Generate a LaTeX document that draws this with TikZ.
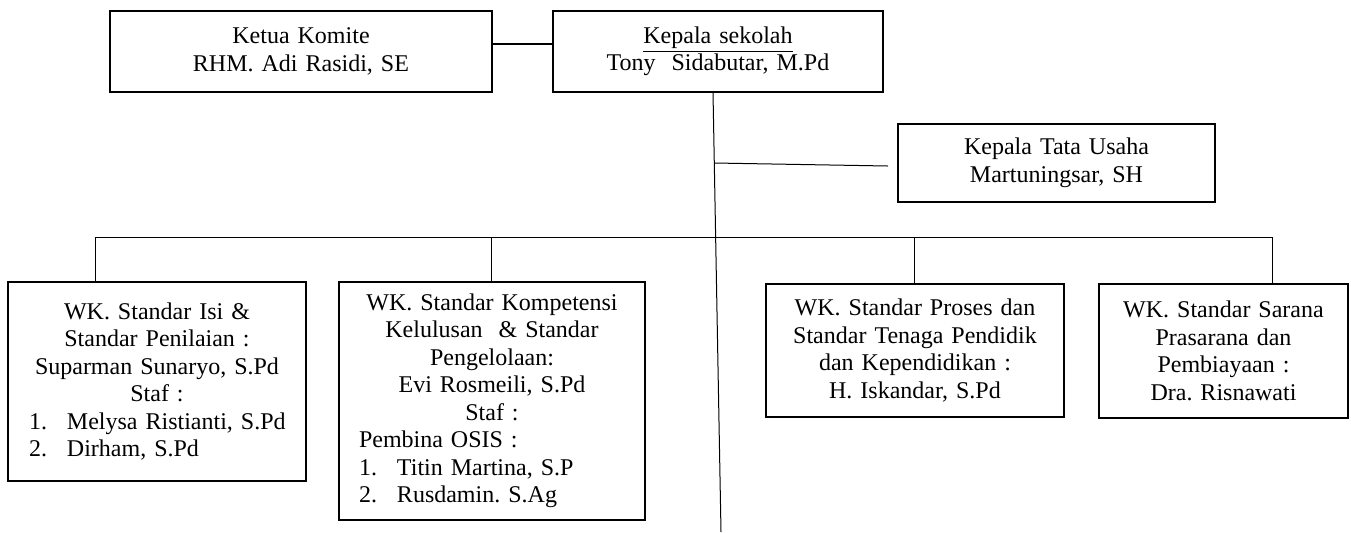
\documentclass[tikz,border=0pt]{standalone}
\usepackage{fontspec}
\setmainfont{Liberation Serif}
\usetikzlibrary{calc}
\frenchspacing
\newcommand{\staffline}[3]{\makebox[\hsize][l]{\hspace*{#1}\makebox[19pt][l]{#2}#3}}

\begin{document}
\begin{tikzpicture}[x=0.5pt,y=-0.5pt]
\tikzstyle{unit} = [draw,line width=0.7pt,inner sep=0pt,align=center,font=\fontsize{12pt}{13.75pt}\selectfont];
\tikzstyle{link} = [line width=0.5pt];

\useasboundingbox (0,0) rectangle (1351,532);

\node [unit,text width=191pt,minimum height=40.5pt] (v1) at (301,51.5) {Ketua Komite\\RHM. Adi Rasidi, SE};
\node [unit,text width=165pt,minimum height=40.5pt] (v2) at (718,51.5) {\underline{Kepala sekolah}\\Tony\ \ Sidabutar, M.Pd};
\node [unit,text width=158.5pt,minimum height=39pt] (v3) at (1056.5,163) {Kepala Tata Usaha\\Martuningsar, SH};

\node [unit,text width=149pt,minimum height=99.5pt] (v4) at (157,381.5) {WK. Standar Isi \&\\Standar Penilaian :\\Suparman Sunaryo, S.Pd\\Staf :\\
\staffline{10.5pt}{1.}{Melysa Ristianti, S.Pd}\\
\staffline{10.5pt}{2.}{Dirham, S.Pd}};
\node [unit,text width=153pt,minimum height=119pt] (v5) at (492,401) {\rule{0pt}{6pt}WK. Standar Kompetensi\\Kelulusan\ \ \& Standar\\Pengelolaan:\\Evi Rosmeili, S.Pd\\Staf :\\
\makebox[\hsize][l]{\hspace*{10pt}Pembina OSIS :}\\
\staffline{10pt}{1.}{Titin Martina, S.P}\\
\staffline{10pt}{2.}{Rusdamin. S.Ag}};
\node [unit,text width=149pt,minimum height=66.5pt] (v6) at (915,350.5) {WK. Standar Proses dan\\Standar Tenaga Pendidik\\dan Kependidikan :\\H. Iskandar, S.Pd};
\node [unit,text width=124.5pt,minimum height=67pt] (v7) at (1223.5,351) {WK. Standar Sarana\\Prasarana dan\\Pembiayaan :\\Dra. Risnawati};

% komite -- kepala sekolah
\draw [line width=0.7pt] ($(v1.east)+(0,-7.5)$) -- ($(v2.west)+(0,-7.5)$);

% garis komando
\coordinate (c1) at (713,92);
\coordinate (c2) at (721,532);
\draw [link] (c1) -- (c2);
\coordinate (c3) at (714.3,163);
\coordinate (c4) at (888,166);
\draw [link] (c3) -- (c4);

% garis wakil
\coordinate (b1) at (95,237);
\coordinate (b2) at (491,237);
\coordinate (b3) at (914,237);
\coordinate (b4) at (1272,237);
\draw [link] (b1) -- (b4);
\draw [link] (b1) -- (b1 |- v4.north);
\draw [link] (b2) -- (b2 |- v5.north);
\draw [link] (b3) -- (b3 |- v6.north);
\draw [link] (b4) -- (b4 |- v7.north);
\end{tikzpicture}
\end{document}
